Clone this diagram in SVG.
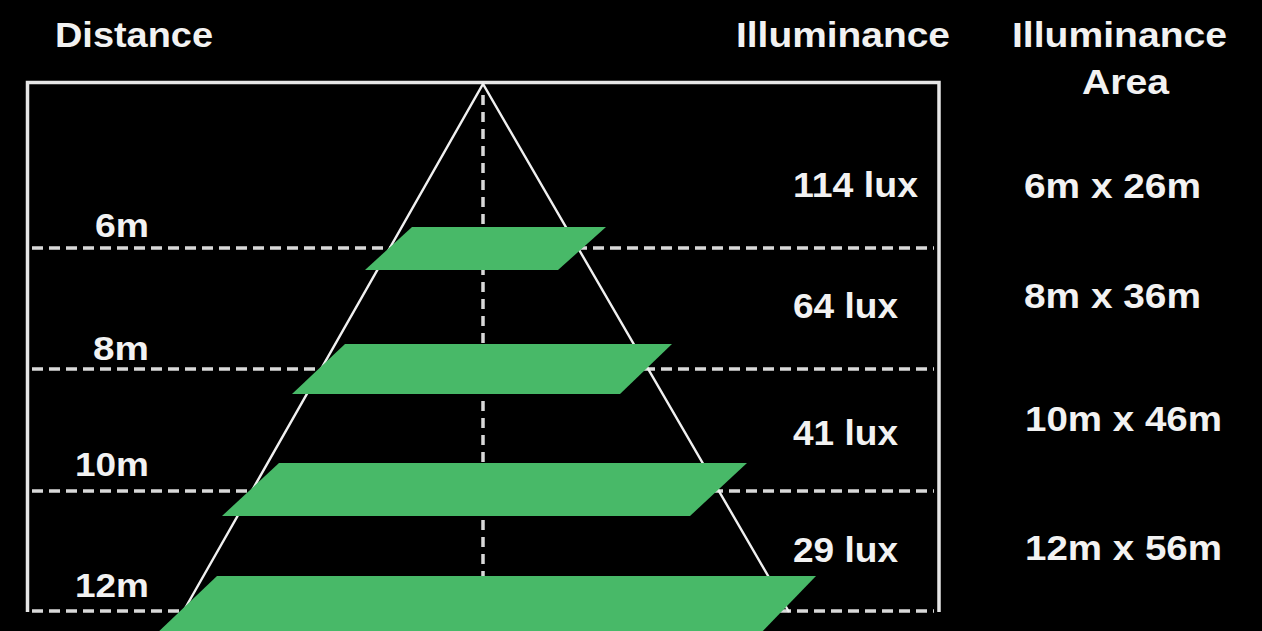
<svg xmlns="http://www.w3.org/2000/svg" width="1262" height="631" viewBox="0 0 1262 631">
<style>
.t{font-family:"Liberation Sans",Arial,sans-serif;font-weight:bold;fill:#f2f2f2;}
.h{font-size:35px;}
.v{font-size:35px;}
.d{font-size:33px;}
.frame{fill:none;stroke:#e6e6e6;stroke-width:3.5;}
.dash{stroke:#d9d9d9;stroke-width:3.5;stroke-dasharray:11 6;fill:none;}
.vdash{stroke:#d9d9d9;stroke-width:3.5;stroke-dasharray:10 7;fill:none;}
.tri{fill:none;stroke:#f0f0f0;stroke-width:2.4;}
.g{fill:#48b968;}
</style>
<rect width="1262" height="631" fill="#000"/>
<g id="headers">
<text class="t h" x="55" y="47" textLength="158" lengthAdjust="spacingAndGlyphs">Distance</text>
<text class="t h" x="736" y="47" textLength="214" lengthAdjust="spacingAndGlyphs">Illuminance</text>
<text class="t h" x="1012" y="47" textLength="215" lengthAdjust="spacingAndGlyphs">Illuminance</text>
<text class="t h" x="1082" y="94" textLength="87" lengthAdjust="spacingAndGlyphs">Area</text>
</g>
<g id="connectors">
<path class="frame" d="M27.5,612 V82.5 H939 V612"/>
<line class="vdash" x1="483" y1="95" x2="483" y2="612"/>
<line class="dash" x1="32" y1="248" x2="934" y2="248"/>
<line class="dash" x1="32" y1="369" x2="934" y2="369"/>
<line class="dash" x1="32" y1="491" x2="934" y2="491"/>
<line class="dash" x1="32" y1="611" x2="934" y2="611"/>
<polyline class="tri" points="183,612 483,84 789,612"/>
</g>
<g id="level-6m">
<polygon class="g" points="412,227 606,227 558,270 365,270"/>
<text class="t d" x="149" y="237" text-anchor="end" textLength="54" lengthAdjust="spacingAndGlyphs">6m</text>
<text class="t v" x="793" y="197" textLength="125" lengthAdjust="spacingAndGlyphs">114 lux</text>
<text class="t v" x="1024" y="198" textLength="177" lengthAdjust="spacingAndGlyphs">6m x 26m</text>
</g>
<g id="level-8m">
<polygon class="g" points="345,344 672,344 620,394 292,394"/>
<text class="t d" x="149" y="360" text-anchor="end" textLength="56" lengthAdjust="spacingAndGlyphs">8m</text>
<text class="t v" x="793" y="318" textLength="105" lengthAdjust="spacingAndGlyphs">64 lux</text>
<text class="t v" x="1024" y="308" textLength="177" lengthAdjust="spacingAndGlyphs">8m x 36m</text>
</g>
<g id="level-10m">
<polygon class="g" points="279,463 747,463 690,516 222,516"/>
<text class="t d" x="149" y="476" text-anchor="end" textLength="74" lengthAdjust="spacingAndGlyphs">10m</text>
<text class="t v" x="793" y="445" textLength="105" lengthAdjust="spacingAndGlyphs">41 lux</text>
<text class="t v" x="1025" y="431" textLength="197" lengthAdjust="spacingAndGlyphs">10m x 46m</text>
</g>
<g id="level-12m">
<polygon class="g" points="217,576 816,576 758,636 154,636"/>
<text class="t d" x="149" y="597" text-anchor="end" textLength="74" lengthAdjust="spacingAndGlyphs">12m</text>
<text class="t v" x="793" y="562" textLength="105" lengthAdjust="spacingAndGlyphs">29 lux</text>
<text class="t v" x="1025" y="560" textLength="197" lengthAdjust="spacingAndGlyphs">12m x 56m</text>
</g>
</svg>
